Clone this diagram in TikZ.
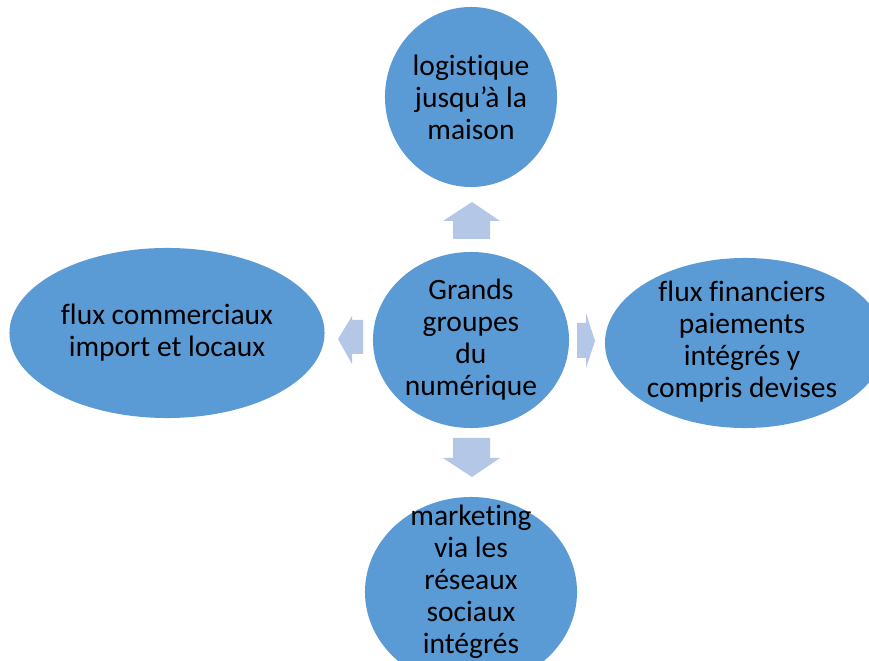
\documentclass[tikz,border=0pt]{standalone}
\usepackage{fontspec}
\setmainfont{Carlito}[Ligatures={NoCommon,NoContextual}]
\usetikzlibrary{shapes.geometric}
\definecolor{ellblue}{HTML}{5B9BD5}
\definecolor{arrowblue}{HTML}{B4C7E7}

\begin{document}
\begin{tikzpicture}[x=0.025cm, y=-0.025cm,
    font=\fontsize{21}{22.8}\selectfont,
    bubble/.style={ellipse, fill=ellblue, draw=none, inner sep=0pt, align=center}]
    \useasboundingbox (0,0) rectangle (869,661);
    \clip (0,0) rectangle (869,661);

    % center
    \node[bubble, minimum width=4.9cm, minimum height=4.4cm] (centre) at (471, 340) {Grands\\groupes\\du\\numérique};

    % top
    \node[bubble, minimum width=4.3cm, minimum height=4.5cm] (haut) at (471, 97) {logistique\\jusqu’à la\\maison};

    % left
    \node[bubble, minimum width=7.875cm, minimum height=4.25cm] (gauche) at (167, 333) {flux commerciaux\\import et locaux};

    % right
    \node[bubble, minimum width=7cm, minimum height=4.25cm] (droite) at (745, 343) {};
    \node[align=center] (droitetxt) at (742, 342) {flux financiers\\paiements\\intégrés y\\compris devises};

    % bottom
    \node[bubble, minimum width=5.3cm, minimum height=4.75cm] (bas) at (471, 592) {};
    \node[align=center] (bastxt) at (471, 582) {marketing\\via les\\réseaux\\sociaux\\intégrés};

    % Arrows
    \fill[arrowblue] (453, 239) -- (453, 221) -- (443, 221) -- (472, 202) -- (500, 221) -- (490, 221) -- (490, 239) -- cycle;
    \fill[arrowblue] (453, 438) -- (453, 458) -- (443, 458) -- (472, 477) -- (500, 458) -- (490, 458) -- (490, 438) -- cycle;
    \fill[arrowblue] (363, 320) -- (352, 320) -- (352, 316) -- (338, 339) -- (352, 364) -- (352, 354) -- (363, 354) -- cycle;
    \fill[arrowblue] (577, 323) -- (586, 323) -- (586, 313) -- (595, 341) -- (586, 368) -- (586, 358) -- (577, 358) -- cycle;
\end{tikzpicture}
\end{document}
